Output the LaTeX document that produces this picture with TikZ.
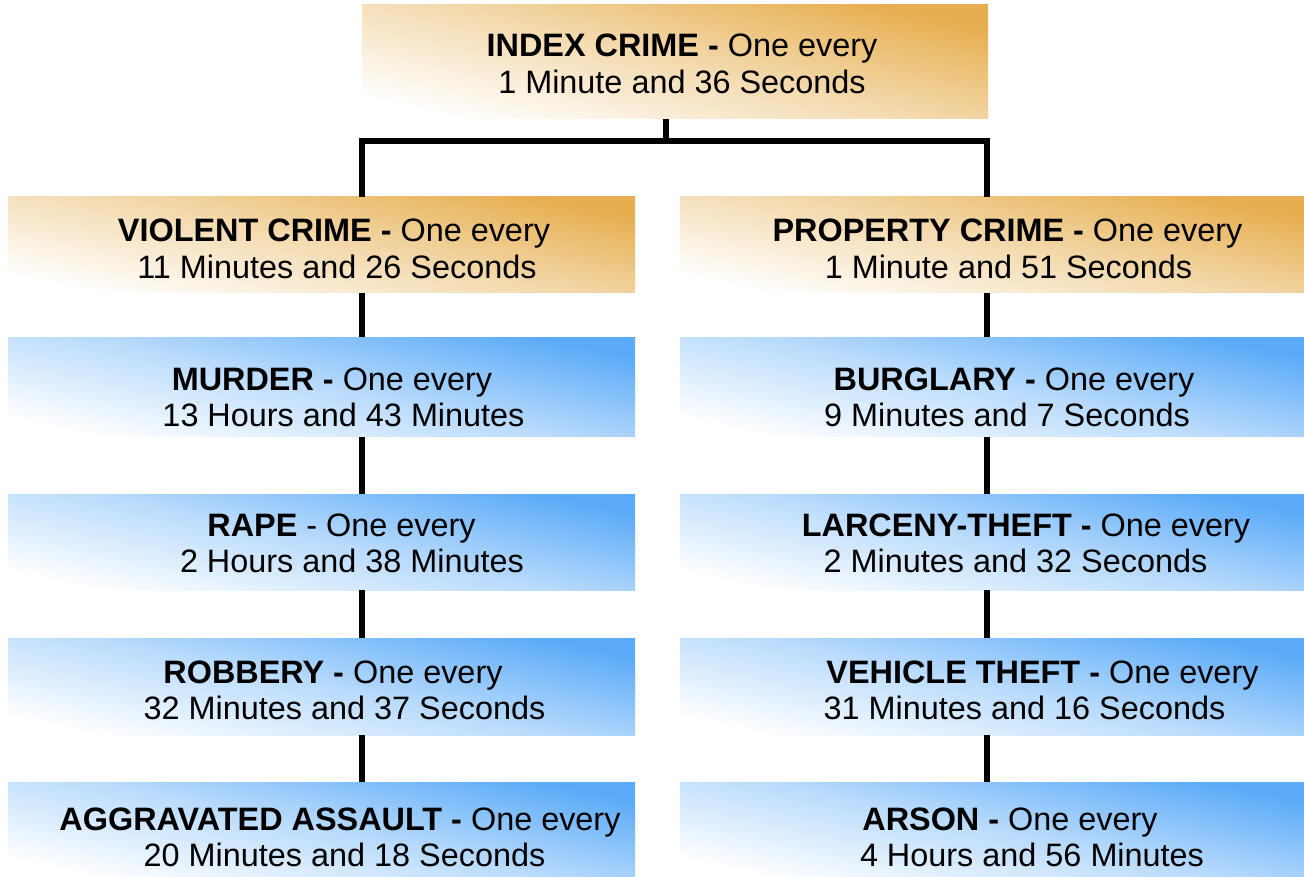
\documentclass[tikz,border=0pt]{standalone}
\usepackage{fontspec}
\setmainfont{Liberation Sans}
\usetikzlibrary{calc}
\definecolor{orangeC}{RGB}{230,174,78}
\definecolor{blueC}{RGB}{90,170,248}
\newcommand\tl[2]{\hspace*{#1pt}#2}
\newcommand\topr[1]{\rule{0pt}{#1pt}}
\newcommand\botr{\rule[-10pt]{0pt}{0pt}}
\tikzset{
  crimebox/.style={rectangle, inner sep=0pt, align=center,
    font=\fontsize{32.4}{36.5}\selectfont, text=black},
  orangebox/.style={crimebox, bottom color=white, top color=orangeC, middle color=orangeC!45!white, shading angle=-12},
  bluebox/.style={crimebox, bottom color=white, top color=blueC, middle color=blueC!42!white, shading angle=-12},
  conn/.style={line width=6pt, black}
}
\begin{document}
\begin{tikzpicture}[x=1pt,y=-1pt]
\useasboundingbox (0,0) rectangle (1304,877);
% top
\node[orangebox, shading angle=-13, minimum width=626pt, minimum height=114pt] (index) at (675,62)
  {\topr{36.5}\tl{14}{\textbf{INDEX CRIME -} One every}\\\tl{14}{1 Minute and 36 Seconds}\botr};
% second row
\node[orangebox, minimum width=627pt, minimum height=96pt] (violent) at (321.5,245)
  {\topr{40.5}\tl{25}{\textbf{VIOLENT CRIME -} One every}\\\tl{31}{11 Minutes and 26 Seconds}\botr};
\node[orangebox, minimum width=624pt, minimum height=96pt] (property) at (992,245)
  {\topr{40.5}\tl{31}{\textbf{PROPERTY CRIME -} One every}\\\tl{33}{1 Minute and 51 Seconds}\botr};
% left column
\node[bluebox, minimum width=627pt, minimum height=96pt] (murder) at (321.5,387)
  {\topr{52.5}\tl{21}{\textbf{MURDER -} One every}\\\tl{44}{13 Hours and 43 Minutes}\botr};
\node[bluebox, minimum width=627pt, minimum height=96pt] (rape) at (321.5,542)
  {\topr{34.5}\tl{40}{\textbf{RAPE} - One every}\\\tl{61}{2 Hours and 38 Minutes}\botr};
\node[bluebox, minimum width=627pt, minimum height=97pt] (robbery) at (321.5,686.5)
  {\topr{39.5}\tl{23}{\textbf{ROBBERY -} One every}\\\tl{46}{32 Minutes and 37 Seconds}\botr};
\node[bluebox, minimum width=627pt, minimum height=95pt] (aggr) at (321.5,829.5)
  {\topr{47.5}\tl{37}{\textbf{AGGRAVATED ASSAULT -} One every}\\\tl{46}{20 Minutes and 18 Seconds}\botr};
% right column
\node[bluebox, minimum width=624pt, minimum height=96pt] (burglary) at (992,387)
  {\topr{52.5}\tl{44}{\textbf{BURGLARY -} One every}\\\tl{30}{9 Minutes and 7 Seconds}\botr};
\node[bluebox, minimum width=624pt, minimum height=96pt] (larceny) at (992,542)
  {\topr{34.5}\tl{68}{\textbf{LARCENY-THEFT -} One every}\\\tl{47}{2 Minutes and 32 Seconds}\botr};
\node[bluebox, minimum width=624pt, minimum height=97pt] (vehicle) at (992,686.5)
  {\topr{39.5}\tl{101}{\textbf{VEHICLE THEFT -} One every}\\\tl{65}{31 Minutes and 16 Seconds}\botr};
\node[bluebox, minimum width=624pt, minimum height=95pt] (arson) at (992,829.5)
  {\topr{47.5}\tl{36}{\textbf{ARSON -} One every}\\\tl{80}{4 Hours and 56 Minutes}\botr};
% connectors
\coordinate (jl) at (362,141);
\coordinate (jr) at (987,141);
\draw[conn] ([xshift=-9pt]index.south) -- ([xshift=-9pt]index.south |- jl);
\draw[conn] (violent.north -| jl) -- (jl) -- (jr) -- (property.north -| jr);
\draw[conn] (violent.south -| jl) -- (murder.north -| jl);
\draw[conn] (murder.south -| jl) -- (rape.north -| jl);
\draw[conn] (rape.south -| jl) -- (robbery.north -| jl);
\draw[conn] (robbery.south -| jl) -- (aggr.north -| jl);
\draw[conn] (property.south -| jr) -- (burglary.north -| jr);
\draw[conn] (burglary.south -| jr) -- (larceny.north -| jr);
\draw[conn] (larceny.south -| jr) -- (vehicle.north -| jr);
\draw[conn] (vehicle.south -| jr) -- (arson.north -| jr);
\end{tikzpicture}
\end{document}
